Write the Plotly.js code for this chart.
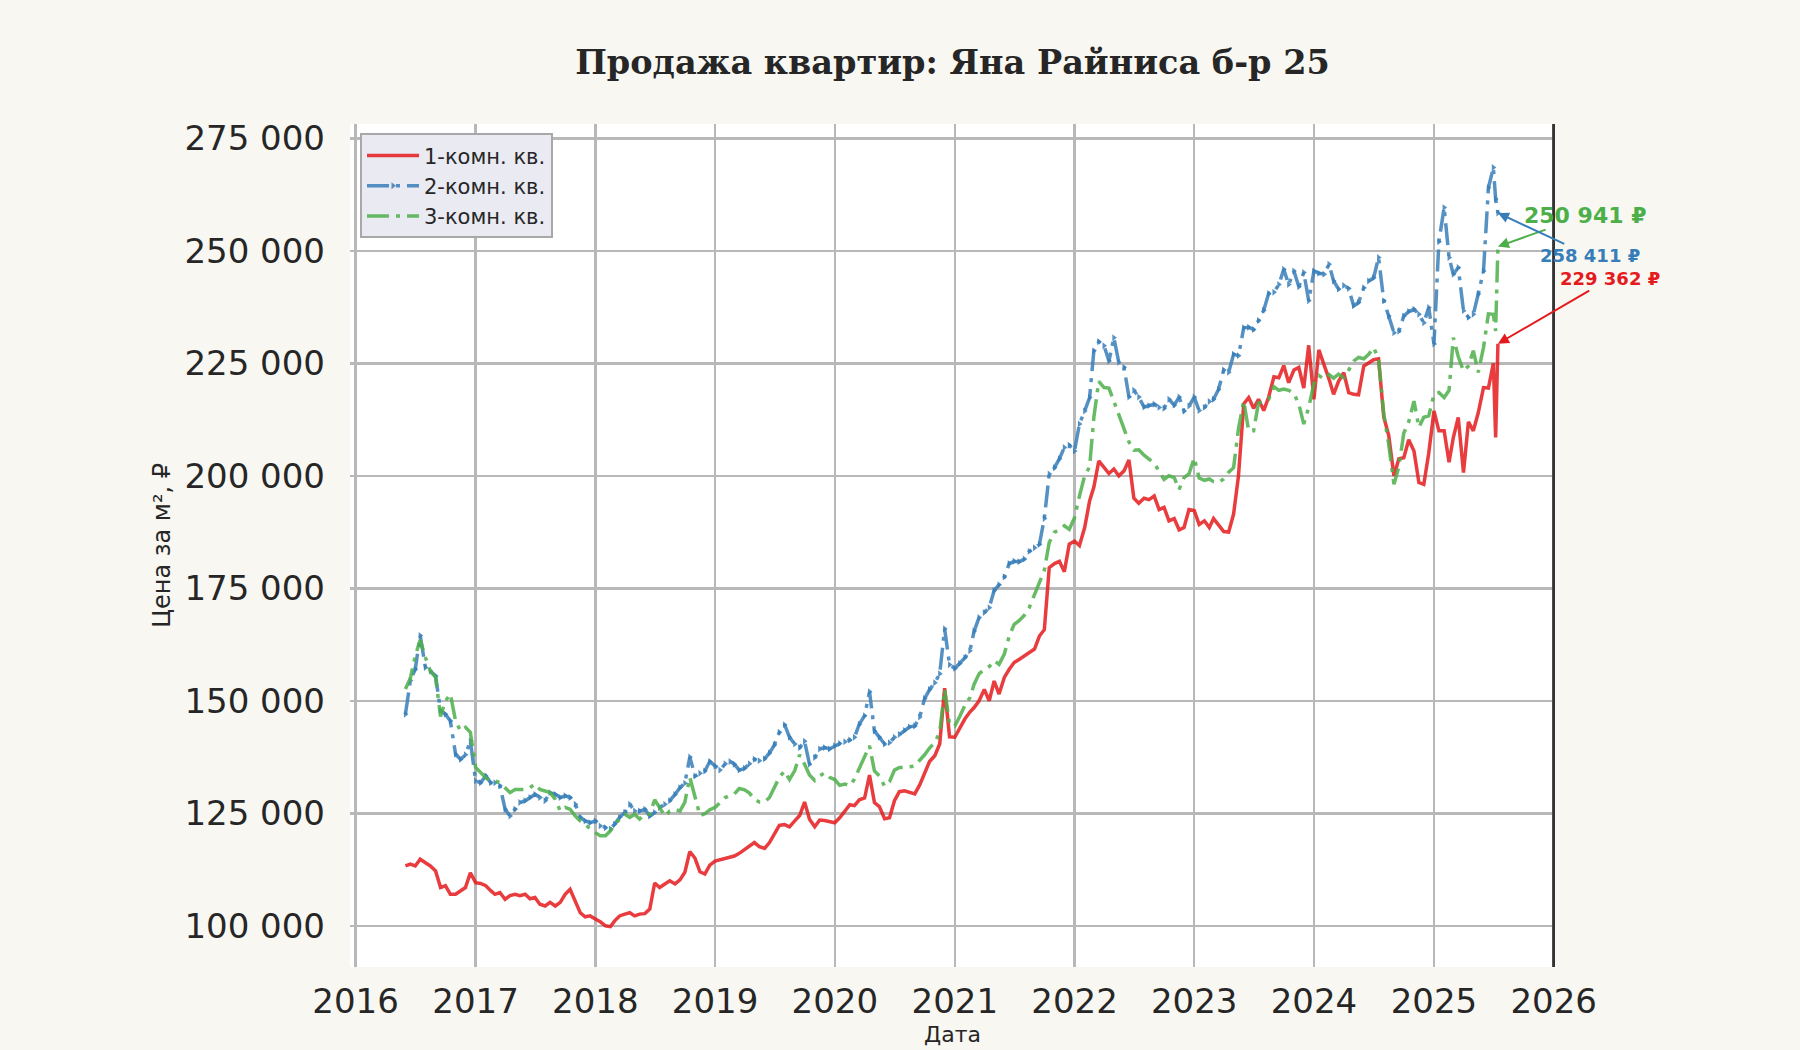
<!DOCTYPE html>
<html>
<head>
<meta charset="utf-8">
<script src="https://cdn.plot.ly/plotly-3.0.1.min.js"></script>
<style>
  html, body { margin: 0; padding: 0; background: #f8f7f2; }
  #chart { width: 1800px; height: 1050px; }
</style>
</head>
<body>
<div id="chart"></div>
<script>
/* ── Price per m² chart, semi-monthly samples ── */

const DATES = [
    '2016-06-01','2016-06-16','2016-07-01','2016-07-16','2016-08-01','2016-08-16','2016-09-01','2016-09-16',
    '2016-10-01','2016-10-16','2016-11-01','2016-11-16','2016-12-01','2016-12-16',
    '2017-01-01','2017-01-16','2017-02-01','2017-02-16','2017-03-01','2017-03-16','2017-04-01','2017-04-16',
    '2017-05-01','2017-05-16','2017-06-01','2017-06-16','2017-07-01','2017-07-16','2017-08-01','2017-08-16',
    '2017-09-01','2017-09-16','2017-10-01','2017-10-16','2017-11-01','2017-11-16','2017-12-01','2017-12-16',
    '2018-01-01','2018-01-16','2018-02-01','2018-02-16','2018-03-01','2018-03-16','2018-04-01','2018-04-16',
    '2018-05-01','2018-05-16','2018-06-01','2018-06-16','2018-07-01','2018-07-16','2018-08-01','2018-08-16',
    '2018-09-01','2018-09-16','2018-10-01','2018-10-16','2018-11-01','2018-11-16','2018-12-01','2018-12-16',
    '2019-01-01','2019-01-16','2019-02-01','2019-02-16','2019-03-01','2019-03-16','2019-04-01','2019-04-16',
    '2019-05-01','2019-05-16','2019-06-01','2019-06-16','2019-07-01','2019-07-16','2019-08-01','2019-08-16',
    '2019-09-01','2019-09-16','2019-10-01','2019-10-16','2019-11-01','2019-11-16','2019-12-01','2019-12-16',
    '2020-01-01','2020-01-16','2020-02-01','2020-02-16','2020-03-01','2020-03-16','2020-04-01','2020-04-16',
    '2020-05-01','2020-05-16','2020-06-01','2020-06-16','2020-07-01','2020-07-16','2020-08-01','2020-08-16',
    '2020-09-01','2020-09-16','2020-10-01','2020-10-16','2020-11-01','2020-11-16','2020-12-01','2020-12-16',
    '2021-01-01','2021-01-16','2021-02-01','2021-02-16','2021-03-01','2021-03-16','2021-04-01','2021-04-16',
    '2021-05-01','2021-05-16','2021-06-01','2021-06-16','2021-07-01','2021-07-16','2021-08-01','2021-08-16',
    '2021-09-01','2021-09-16','2021-10-01','2021-10-16','2021-11-01','2021-11-16','2021-12-01','2021-12-16',
    '2022-01-01','2022-01-16','2022-02-01','2022-02-16','2022-03-01','2022-03-16','2022-04-01','2022-04-16',
    '2022-05-01','2022-05-16','2022-06-01','2022-06-16','2022-07-01','2022-07-16','2022-08-01','2022-08-16',
    '2022-09-01','2022-09-16','2022-10-01','2022-10-16','2022-11-01','2022-11-16','2022-12-01','2022-12-16',
    '2023-01-01','2023-01-16','2023-02-01','2023-02-16','2023-03-01','2023-03-16','2023-04-01','2023-04-16',
    '2023-05-01','2023-05-16','2023-06-01','2023-06-16','2023-07-01','2023-07-16','2023-08-01','2023-08-16',
    '2023-09-01','2023-09-16','2023-10-01','2023-10-16','2023-11-01','2023-11-16','2023-12-01','2023-12-16',
    '2024-01-01','2024-01-16','2024-02-01','2024-02-16','2024-03-01','2024-03-16','2024-04-01','2024-04-16',
    '2024-05-01','2024-05-16','2024-06-01','2024-06-16','2024-07-01','2024-07-16','2024-08-01','2024-08-16',
    '2024-09-01','2024-09-16','2024-10-01','2024-10-16','2024-11-01','2024-11-16','2024-12-01','2024-12-16',
    '2025-01-01','2025-01-16','2025-02-01','2025-02-16','2025-03-01','2025-03-16','2025-04-01','2025-04-16',
    '2025-05-01','2025-05-16','2025-06-01','2025-06-16','2025-07-01','2025-07-08','2025-07-15',
];

// 1-комн. кв.
const ROOM1 = [
    113300,113700,113300,114800,114000,113300,112200,108500,108900,107000,
    107000,107800,108500,111800,109600,109400,108900,107800,107000,107400,
    105900,106700,107000,106700,107000,106000,106300,104800,104400,105200,
    104400,105200,107000,108100,105200,102900,102000,102200,101500,100900,
    100000,99800,101100,102200,102600,102900,102200,102600,102700,103700,
    109500,108500,109300,110000,109300,110200,111900,116500,115000,112000,
    111500,113500,114400,114700,115000,115300,115500,116100,116900,117600,
    118500,117600,117200,118500,120400,122300,122500,122000,123300,124500,
    127500,123700,122000,123500,123400,123200,122900,124000,125500,126900,
    126700,128000,128400,133500,127400,126500,123800,124000,127800,129800,
    130000,129600,129300,131300,133800,136500,137800,140400,152800,142000,
    141900,143800,146000,147500,148500,150000,152500,150000,154400,151500,
    155200,157000,158500,159200,160000,160900,161500,164400,165800,179600,
    180500,181000,178700,184800,185500,184500,188500,194400,197500,203300,
    201800,200500,201500,200000,201100,203500,195000,193900,195000,194700,
    195500,192500,193000,190000,190500,188000,188500,192500,192300,189200,
    190000,188500,190500,189000,187600,187500,191500,200000,216000,217400,
    215000,217000,214500,217500,222000,221800,224500,220700,223500,224100,
    219500,229000,217000,228000,224800,221500,218100,221000,222900,218500,
    218100,218000,224400,225200,225800,226000,213000,209000,200000,203800,
    204000,208000,205500,198500,198100,205000,214400,210000,210000,203000,
    208500,213000,200700,212000,210000,214000,219600,219500,225000,208500,
    229362,
];

// 2-комн. кв.
const ROOM2 = [
    147000,154500,157000,164500,157400,156600,155500,147800,147000,145500,
    138100,137000,138000,141100,132200,131800,133300,131800,131800,131100,
    125900,124400,125900,127400,127800,128500,129200,128500,127800,129600,
    129200,128500,128900,128500,127000,124100,123300,122900,123300,122200,
    121800,121500,122600,124100,125200,127000,125500,125500,125900,124400,
    125200,126300,127000,127800,129200,130700,131700,137500,133300,133900,
    134400,136500,135500,134600,136000,136500,135900,134600,135000,136000,
    137000,136700,137100,138400,140200,143000,144700,141900,140400,139600,
    141000,135900,137400,139300,139600,139300,140000,140500,140900,141300,
    141900,144800,146700,152000,143300,141900,140400,140700,141900,142500,
    143400,144200,144400,146400,150500,152500,154000,156000,166000,158000,
    157200,158300,159600,161100,165500,168500,169600,170700,174500,175800,
    177500,180500,181000,180900,181500,183200,184000,184800,190500,200400,
    201800,203800,206300,206800,205500,211500,214400,217400,227800,229800,
    228900,225500,230700,225200,224100,217500,219000,217500,215300,215600,
    215900,215200,215000,217000,215700,217500,214400,215500,217500,214500,
    215200,216500,217000,219200,223500,223000,227000,226700,232900,233000,
    232500,234500,236800,240500,240800,242500,245900,242500,245500,242000,
    245200,238900,245500,245000,244800,247000,243300,241500,242300,241600,
    237800,238500,241800,243300,244000,248500,238900,235500,231800,232100,
    235500,236500,237000,235900,234000,237400,229300,252000,259600,248500,
    244800,246300,236700,235200,235900,240400,245500,264000,268500,261500,
    258411,
];

// 3-комн. кв.
const ROOM3 = [
    152600,155000,160000,163500,159600,156600,155200,146500,150000,151500,
    145500,143300,144100,143000,135200,134100,132900,132200,132200,131800,
    130700,129600,130300,130300,130300,130700,131500,130300,130000,129600,
    128100,125500,126300,125900,124400,123300,122600,121500,120700,120000,
    120000,121100,122600,123700,124800,124100,124800,123700,124800,124800,
    128000,126300,124400,125500,125900,125500,127500,133000,128500,124500,
    124900,125800,126300,127500,128500,129000,129300,130500,130200,129500,
    128100,127500,127500,128500,130700,133000,134400,132500,134500,138000,
    135900,133500,132300,133300,134000,133000,132500,131200,131500,131100,
    132600,135000,137200,140000,134400,133300,131000,132000,134600,135200,
    135200,135300,135500,136800,138000,139500,140700,143000,152500,144800,
    144400,146500,149000,150700,153700,156000,157000,157600,158900,158100,
    160400,164400,167000,167800,169000,170700,173500,176000,179000,185200,
    187500,188000,188900,188100,190700,195500,200000,202000,213000,221000,
    219600,219500,216600,213500,210700,207500,205700,205800,204600,203800,
    202800,201000,199200,200000,199600,197000,199600,200400,204000,199500,
    199000,199300,198700,198500,199300,200800,201800,210500,216600,210000,
    210000,216200,216400,217000,219800,219000,219300,219000,218300,215900,
    211500,215200,220500,222300,221500,222500,221700,222600,221800,223500,
    225500,226300,226000,227000,228500,226000,213700,207000,198100,202000,
    209500,212000,216600,210800,213000,213300,218100,218500,217400,219000,
    230700,226500,223300,224400,227800,223000,228500,236000,235900,232200,
    250941,
];

const SERIES_NAMES = ['1-комн. кв.', '2-комн. кв.', '3-комн. кв.'];
const LAST_LABELS = ['229 362 ₽', '258 411 ₽', '250 941 ₽'];
const YEAR_TICKS = ['2016-01-01','2017-01-01','2018-01-01','2019-01-01','2020-01-01','2021-01-01',
                    '2022-01-01','2023-01-01','2024-01-01','2025-01-01','2026-01-01'];
const Y_TICKS = [100000, 125000, 150000, 175000, 200000, 225000, 250000, 275000];

const RED = 'rgba(228,26,28,0.85)', BLUE = 'rgba(55,126,184,0.85)', GREEN = 'rgba(77,175,74,0.85)';
const FONT = 'DejaVu Sans, sans-serif';
const INK = '#262626';
const DASHDOT = '22px,7px,4px,7px';

const traces = [
    {
        x: DATES, y: ROOM1, name: SERIES_NAMES[0], mode: 'lines',
        line: { color: RED, width: 3.5 },
    },
    {
        x: DATES, y: ROOM2, name: SERIES_NAMES[1], mode: 'lines+markers',
        line: { color: BLUE, width: 3.5, dash: DASHDOT },
        marker: { symbol: 'triangle-right', size: 6, color: BLUE },
    },
    {
        x: DATES, y: ROOM3, name: SERIES_NAMES[2], mode: 'lines',
        line: { color: GREEN, width: 3.5, dash: DASHDOT },
    },
];

const n = DATES.length - 1;
const endNote = (i, vals, color, size, ax, ay) => ({
    x: DATES[n], y: vals[n], xref: 'x', yref: 'y',
    text: `<b>${LAST_LABELS[i]}</b>`,
    font: { family: FONT, size, color },
    showarrow: true, arrowhead: 2, arrowsize: 1.1, arrowwidth: 2, arrowcolor: color,
    ax, ay,
});

const layout = {
    width: 1800, height: 1050,
    paper_bgcolor: '#f8f7f2',
    plot_bgcolor: '#ffffff',
    separators: '. ',
    margin: { l: 350, r: 245, t: 124, b: 83 },
    font: { family: FONT, color: INK },
    title: {
        text: '<b>Продажа квартир: Яна Райниса б-р 25</b>',
        font: { family: 'DejaVu Serif, serif', size: 33.5, color: INK },
        xref: 'paper', x: 0.5, xanchor: 'center',
        yref: 'container', y: 1 - 62 / 1050, yanchor: 'middle',
    },
    xaxis: {
        type: 'date',
        range: ['2015-12-15', '2026-01-05'],
        tickvals: YEAR_TICKS, tickformat: '%Y',
        tickfont: { family: FONT, size: 34, color: INK },
        showgrid: true, gridcolor: '#b8b8b8', gridwidth: 2.5,
        zeroline: false, showline: false, ticks: '',
        ticklabelstandoff: 11,
    },
    yaxis: {
        range: [90845, 278180],
        tickvals: Y_TICKS, tickformat: ',d',
        tickfont: { family: FONT, size: 34, color: INK },
        showgrid: true, gridcolor: '#b8b8b8', gridwidth: 2.5,
        zeroline: false, showline: false, ticks: '',
        ticklabelstandoff: 24,
    },
    legend: {
        x: 0.0083, y: 0.989, xanchor: 'left', yanchor: 'top',
        bgcolor: '#eaeaf2', bordercolor: '#a8a8a8', borderwidth: 2,
        font: { family: FONT, size: 21, color: INK },
        tracegroupgap: 0, itemwidth: 52,
    },
    shapes: [
        // dark right edge at 2026
        { type: 'line', xref: 'x', yref: 'paper', x0: '2026-01-01', x1: '2026-01-01', y0: 0, y1: 1,
          line: { color: '#333333', width: 3 } },
    ],
    annotations: [
        { text: 'Цена за м², ₽', xref: 'paper', yref: 'paper', x: -0.170, y: 0.5,
          textangle: -90, showarrow: false, font: { family: FONT, size: 24, color: INK } },
        { text: 'Дата', xref: 'paper', yref: 'paper', x: 0.5, y: -0.0975, yanchor: 'bottom',
          showarrow: false, font: { family: FONT, size: 22, color: INK } },
        endNote(2, ROOM3, '#4daf4a', 22, 87, -31),
        endNote(1, ROOM2, '#377eb8', 18, 92, 43),
        endNote(0, ROOM1, '#e41a1c', 18, 112, -65),
    ],
};

Plotly.newPlot('chart', traces, layout, { displayModeBar: false, staticPlot: true });
</script>
</body>
</html>
